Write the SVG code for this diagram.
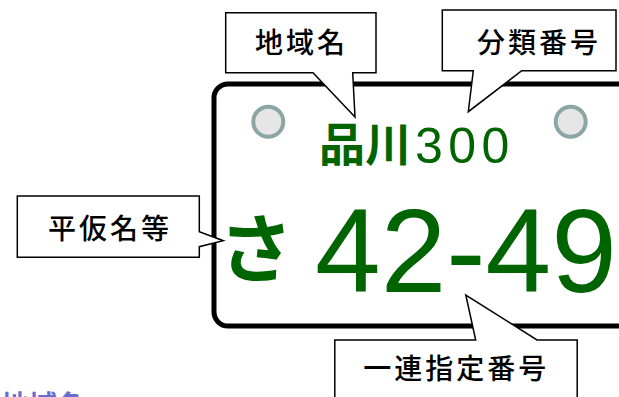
<svg xmlns="http://www.w3.org/2000/svg" width="619" height="397" viewBox="0 0 619 397">
<style>
.callout{fill:#fff;stroke:#000;stroke-width:1.5;stroke-linejoin:miter}
.lbl{font-family:"Noto Sans CJK JP","Noto Sans",sans-serif;font-size:28px;font-weight:500;letter-spacing:3px;fill:#000;text-anchor:middle}
.green{fill:#006400}
.hole{fill:#e6e6e6;stroke:#8ca5a5;stroke-width:4}
</style>
<rect width="619" height="397" fill="#fff"/>
<text x="1" y="416" font-family="'Noto Sans CJK JP',sans-serif" font-size="28" font-weight="bold" fill="#6b6bd6">地域名</text>
<g id="plate">
<rect x="214" y="84" width="430" height="242" rx="14" fill="#fff" stroke="#000" stroke-width="5"/>
<circle class="hole" cx="268.3" cy="121.7" r="15"/>
<circle class="hole" cx="570.7" cy="121.7" r="15"/>
<text class="green" x="319" y="161" font-family="'Noto Sans CJK JP',sans-serif" font-size="46" font-weight="bold">品川</text>
<text class="green" x="415" y="162.5" font-family="'Liberation Sans',Arial,sans-serif" font-size="50" letter-spacing="5.5">300</text>
<text class="green" x="219" y="276" font-family="'Noto Sans CJK JP',sans-serif" font-size="74" font-weight="bold">さ</text>
<text class="green" x="315" y="292" font-family="'Liberation Sans',Arial,sans-serif" font-size="118">42-49</text>
</g>
<g id="connectors"></g>
<g id="callout-chiiki">
<path class="callout" d="M225.7,12.7 H376 V72.7 H352.7 L355,117 L313,72.7 H225.7 Z"/>
<text class="lbl" x="301.5" y="53">地域名</text>
</g>
<g id="callout-bunrui">
<path class="callout" d="M442.3,10 H616 V70.7 H521.7 L468.3,111.7 L473.3,70.7 H442.3 Z"/>
<text class="lbl" x="539" y="53">分類番号</text>
</g>
<g id="callout-hiragana">
<path class="callout" d="M17.3,196 H199.3 V231.7 L223.3,240.7 L199.3,246.7 V257.3 H17.3 Z"/>
<text class="lbl" x="110" y="239">平仮名等</text>
</g>
<g id="callout-ichiren">
<path class="callout" d="M334.8,340 H475.7 L465.8,295 L537,340 H577.2 V402 H334.8 Z"/>
<text class="lbl" x="456.3" y="379">一連指定番号</text>
</g>
</svg>
